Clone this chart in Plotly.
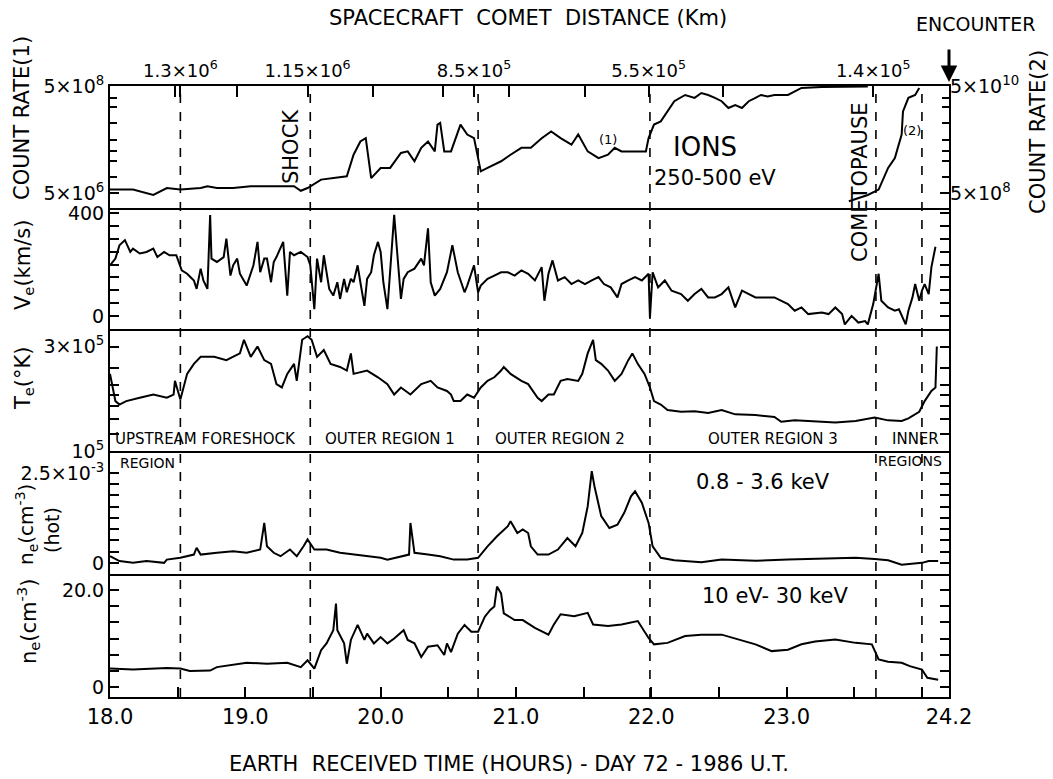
import plotly.graph_objects as go

# ---------------- data ----------------
# Panel 1: ion count rate (1) (left log axis) and (2) (right log axis)
ions1_t = [18.00, 18.17, 18.32, 18.42, 18.52, 18.67, 18.72, 18.79, 18.91, 19.04,
           19.16, 19.28, 19.36, 19.41, 19.46, 19.56, 19.65, 19.75, 19.80, 19.85,
           19.89, 19.93, 20.00, 20.07, 20.15, 20.20, 20.25, 20.30, 20.35, 20.40,
           20.42, 20.44, 20.47, 20.52, 20.59, 20.64, 20.69, 20.74, 20.79, 20.89,
           20.96, 21.04, 21.11, 21.19, 21.26, 21.33, 21.41, 21.46, 21.53, 21.61,
           21.68, 21.73, 21.78, 21.88, 21.96, 21.98, 22.02, 22.07, 22.12, 22.17,
           22.25, 22.32, 22.37, 22.42, 22.47, 22.52, 22.57, 22.62, 22.67, 22.72,
           22.77, 22.81, 22.86, 22.91, 23.01, 23.06, 23.11, 23.26, 23.41, 23.60]
ions1_v = [5.8e6, 5.8e6, 4.6e6, 6.2e6, 5.8e6, 6.2e6, 6.7e6, 6.2e6, 6.2e6, 6.7e6,
           6.7e6, 6.7e6, 6.7e6, 5.5e6, 6.2e6, 8.9e6, 9.5e6, 1.03e7, 2.6e7, 4.6e7,
           5.3e7, 9.5e6, 1.47e7, 1.47e7, 2.8e7, 3.0e7, 1.96e7, 3.5e7, 4.6e7, 3.0e7,
           9.5e7, 1.02e8, 3.0e7, 3.0e7, 9.5e7, 6.2e7, 5.3e7, 1.27e7, 1.47e7, 1.96e7,
           2.6e7, 3.5e7, 3.5e7, 5.3e7, 7.1e7, 5.3e7, 4.0e7, 6.2e7, 3.0e7, 2.25e7,
           2.6e7, 3.5e7, 3.0e7, 3.0e7, 3.0e7, 5.3e7, 9.5e7, 1.09e8, 1.68e8, 2.6e8,
           3.4e8, 3.0e8, 3.7e8, 3.4e8, 3.0e8, 2.6e8, 1.94e8, 2.2e8, 1.94e8, 2.6e8,
           3.0e8, 3.4e8, 3.2e8, 3.4e8, 3.4e8, 4.0e8, 4.6e8, 4.8e8, 4.8e8, 4.9e8]
ions2_t = [23.46, 23.53, 23.60, 23.68, 23.75, 23.80, 23.85, 23.86, 23.90, 23.95, 23.98]
ions2_v = [3.5e8, 4.0e8, 4.6e8, 5.8e8, 1.47e9, 2.25e9, 6.2e9, 1.68e10, 3.0e10, 3.4e10, 4.6e10]

# Panel 2: electron bulk velocity Ve (km/s)
ve_t = [18.00, 18.04, 18.07, 18.11, 18.15, 18.17, 18.22, 18.27, 18.32, 18.35,
        18.40, 18.44, 18.49, 18.53, 18.57, 18.62, 18.64, 18.67, 18.69, 18.72,
        18.74, 18.75, 18.79, 18.84, 18.86, 18.89, 18.91, 18.94, 18.96, 19.01,
        19.06, 19.09, 19.11, 19.14, 19.16, 19.19, 19.21, 19.23, 19.28, 19.31,
        19.33, 19.36, 19.41, 19.46, 19.48, 19.51, 19.53, 19.56, 19.58, 19.62,
        19.65, 19.68, 19.70, 19.73, 19.75, 19.78, 19.80, 19.83, 19.85, 19.88,
        19.90, 19.93, 19.95, 19.98, 20.00, 20.02, 20.05, 20.07, 20.10, 20.12,
        20.15, 20.17, 20.20, 20.25, 20.30, 20.32, 20.35, 20.37, 20.40, 20.44,
        20.49, 20.53, 20.57, 20.62, 20.64, 20.69, 20.72, 20.74, 20.79, 20.84,
        20.89, 20.94, 20.99, 21.04,
        21.09, 21.14, 21.19, 21.21, 21.24, 21.27, 21.31, 21.36, 21.41, 21.46,
        21.51, 21.56, 21.61, 21.65, 21.70, 21.75, 21.78, 21.83, 21.88, 21.93,
        21.98, 21.99, 22.01, 22.05, 22.10, 22.15, 22.22, 22.27, 22.32, 22.37,
        22.42, 22.47, 22.52, 22.57, 22.62, 22.67, 22.72, 22.77, 22.91, 22.96,
        23.01, 23.06, 23.11, 23.16, 23.26, 23.31, 23.36, 23.41, 23.43, 23.48,
        23.53, 23.58, 23.60, 23.64, 23.68, 23.70, 23.75, 23.80, 23.83, 23.88,
        23.90, 23.93, 23.95, 23.98, 24.00, 24.02, 24.05, 24.07, 24.10]
ve_v = [197, 223, 275, 295, 249, 262, 243, 249, 262, 229,
        249, 236, 236, 177, 164, 138, 105, 184, 138, 105,
        393, 223, 210, 229, 301, 157, 197, 223, 164, 118,
        197, 288, 170, 223, 223, 131, 210, 229, 288, 79,
        249, 236, 249, 229, 197, 26, 223, 131, 236, 105,
        79, 131, 66, 144, 92, 144, 131, 197, 131, 39,
        144, 170, 236, 288, 249, 131, 26, 170, 393, 262,
        66, 144, 170, 184, 223, 197, 341, 131, 79, 105,
        170, 275, 170, 92, 118, 197, 92, 118, 144, 157,
        170, 170, 157, 177,
        164, 138, 190, 59, 164, 216, 138, 151, 124, 138,
        124, 138, 151, 124, 111, 72, 124, 138, 151, 138,
        164, -7, 170, 111, 138, 98, 85, 59, 85, 105,
        72, 72, 85, 111, 33, 98, 85, 72, 72, 59,
        46, 20, 33, 7, 13, 7, 33, 7, -33, 0,
        -26, -20, -33, 46, 164, 59, 33, 20, 26, -33,
        20, 72, 124, 59, 98, 124, 85, 190, 269]

# Panel 3: electron temperature Te (K)
te_t = [18.00, 18.04, 18.07, 18.12, 18.22, 18.32, 18.42, 18.47, 18.48, 18.52,
        18.57, 18.62, 18.67, 18.77, 18.86, 18.96, 18.99, 19.04, 19.09, 19.14,
        19.19, 19.23, 19.27, 19.31, 19.36, 19.38, 19.42, 19.46, 19.49, 19.53,
        19.58, 19.63, 19.70, 19.75, 19.78, 19.80, 19.90, 19.98, 20.05, 20.10,
        20.15, 20.22, 20.30, 20.37, 20.42, 20.49, 20.52, 20.54, 20.59, 20.64,
        20.69, 20.74, 20.79, 20.84, 20.89, 20.91, 20.96, 21.04,
        21.09, 21.16, 21.19, 21.24, 21.28, 21.33, 21.38, 21.46, 21.49, 21.53,
        21.57, 21.59, 21.63, 21.68, 21.73, 21.78, 21.83, 21.86, 21.90, 21.95,
        21.99, 22.02, 22.07, 22.12, 22.22, 22.32, 22.42, 22.52, 22.62, 22.77,
        22.91, 22.96, 23.06, 23.21, 23.36, 23.51, 23.65, 23.75, 23.85, 23.90,
        23.98, 24.02, 24.07, 24.10, 24.11]
te_v = [2.25e5, 1.69e5, 1.63e5, 1.69e5, 1.75e5, 1.81e5, 1.75e5, 1.81e5, 2.09e5, 1.72e5,
        2.25e5, 2.50e5, 2.69e5, 2.69e5, 2.60e5, 2.79e5, 3.22e5, 2.69e5, 3.00e5, 2.60e5,
        2.50e5, 2.02e5, 1.95e5, 2.25e5, 2.50e5, 2.09e5, 3.22e5, 3.34e5, 3.22e5, 2.69e5,
        2.89e5, 2.50e5, 2.42e5, 2.33e5, 2.79e5, 2.25e5, 2.33e5, 2.17e5, 2.02e5, 1.81e5,
        1.95e5, 1.81e5, 2.02e5, 2.09e5, 1.95e5, 1.88e5, 1.81e5, 1.69e5, 1.69e5, 1.81e5,
        1.75e5, 1.95e5, 2.09e5, 2.17e5, 2.33e5, 2.42e5, 2.25e5, 2.09e5,
        2.02e5, 1.75e5, 1.69e5, 1.81e5, 1.81e5, 2.09e5, 2.13e5, 2.09e5, 2.25e5, 2.79e5,
        3.22e5, 2.60e5, 2.50e5, 2.33e5, 2.09e5, 2.25e5, 2.60e5, 2.79e5, 2.50e5, 2.25e5,
        1.95e5, 1.69e5, 1.63e5, 1.54e5, 1.51e5, 1.52e5, 1.49e5, 1.54e5, 1.47e5, 1.46e5,
        1.43e5, 1.36e5, 1.38e5, 1.36e5, 1.35e5, 1.37e5, 1.42e5, 1.38e5, 1.37e5, 1.41e5,
        1.51e5, 1.69e5, 1.88e5, 1.95e5, 3.00e5]

# Panel 4: hot electron density 0.8-3.6 keV (cm^-3)
nhot_t = [18.00, 18.07, 18.17, 18.27, 18.40, 18.42, 18.52, 18.62, 18.64, 18.67,
          18.79, 18.91, 19.01, 19.11, 19.14, 19.16, 19.21, 19.26, 19.33, 19.38,
          19.43, 19.46, 19.51, 19.60, 19.70, 19.80, 19.90, 20.00, 20.05, 20.15,
          20.21, 20.22, 20.25, 20.35, 20.44, 20.54, 20.64, 20.72, 20.79, 20.86,
          20.94, 20.96, 21.01, 21.05,
          21.09, 21.11, 21.16, 21.24, 21.31, 21.38, 21.44, 21.49, 21.53, 21.56,
          21.58, 21.63, 21.69, 21.75, 21.80, 21.85, 21.88, 21.93, 21.98, 22.01,
          22.07, 22.17, 22.37, 22.52, 22.77, 23.01, 23.26, 23.51, 23.65, 23.75,
          23.85, 24.00, 24.05, 24.12]
nhot_v = [0.185e-3, 0.05e-3, 0.0, 0.05e-3, 0.0, 0.09e-3, 0.14e-3, 0.23e-3, 0.42e-3, 0.23e-3,
          0.28e-3, 0.32e-3, 0.28e-3, 0.37e-3, 1.11e-3, 0.46e-3, 0.28e-3, 0.185e-3, 0.37e-3, 0.185e-3,
          0.46e-3, 0.65e-3, 0.37e-3, 0.37e-3, 0.28e-3, 0.23e-3, 0.185e-3, 0.14e-3, 0.09e-3, 0.185e-3,
          0.23e-3, 1.11e-3, 0.28e-3, 0.23e-3, 0.185e-3, 0.09e-3, 0.09e-3, 0.14e-3, 0.46e-3, 0.74e-3,
          1.02e-3, 1.16e-3, 0.83e-3, 0.93e-3,
          0.83e-3, 0.46e-3, 0.23e-3, 0.23e-3, 0.37e-3, 0.69e-3, 0.46e-3, 0.83e-3, 1.57e-3, 2.55e-3,
          2.13e-3, 1.30e-3, 0.97e-3, 1.06e-3, 1.39e-3, 1.85e-3, 1.99e-3, 1.67e-3, 1.11e-3, 0.46e-3,
          0.14e-3, 0.07e-3, 0.02e-3, 0.09e-3, 0.06e-3, 0.09e-3, 0.11e-3, 0.14e-3, 0.11e-3, 0.07e-3,
          -0.05e-3, 0.0, 0.05e-3, 0.05e-3]

# Panel 5: total electron density 10 eV-30 keV (cm^-3)
ne_t = [18.00, 18.17, 18.42, 18.52, 18.59, 18.74, 18.79, 19.01, 19.16, 19.31,
        19.41, 19.46, 19.51, 19.56, 19.60, 19.65, 19.67, 19.68, 19.73, 19.75,
        19.78, 19.83, 19.88, 19.90, 19.95, 20.00, 20.05, 20.10, 20.17, 20.20,
        20.25, 20.30, 20.35, 20.42, 20.47, 20.49, 20.52, 20.57, 20.62, 20.67,
        20.72, 20.77, 20.81, 20.84, 20.86, 20.89, 20.91, 20.99, 21.05,
        21.14, 21.24, 21.28, 21.33, 21.43, 21.53, 21.57, 21.68, 21.78, 21.90,
        21.98, 22.02, 22.12, 22.25, 22.37, 22.52, 22.64, 22.77, 22.89, 23.01,
        23.11, 23.21, 23.36, 23.51, 23.63, 23.68, 23.75, 23.85, 23.91, 24.00,
        24.04, 24.12]
ne_v = [3.8, 3.6, 3.9, 3.8, 3.3, 3.4, 4.1, 5.0, 4.8, 5.0,
        4.1, 5.5, 3.8, 7.6, 9.0, 11.7, 17.2, 11.7, 9.0, 4.8,
        9.7, 12.8, 9.7, 11.0, 9.0, 10.3, 9.0, 10.0, 11.7, 9.7,
        9.0, 6.2, 8.3, 8.6, 6.6, 9.0, 7.2, 11.0, 12.8, 11.4,
        11.4, 14.5, 15.9, 16.6, 20.7, 19.3, 15.2, 13.8, 13.8,
        12.2, 10.8, 12.9, 15.0, 14.6, 15.3, 12.9, 12.6, 12.9, 13.6,
        10.1, 8.8, 9.1, 10.5, 10.8, 10.8, 9.8, 8.8, 7.4, 7.7,
        8.8, 9.4, 9.8, 9.1, 8.8, 5.7, 5.2, 5.0, 4.3, 3.6,
        1.9, 1.5]

# region boundaries (dashed lines), hours
boundaries = [18.52, 19.48, 20.72, 21.99, 23.66, 24.00]

# top axis: spacecraft-comet distance
dist_ticks = [18.48, 18.52, 18.94, 19.46, 19.94, 20.46, 20.69, 20.95, 21.51, 21.98, 22.53, 23.64]
dist_text = ["", "1.3×10<sup>6</sup>", "", "1.15×10<sup>6</sup>", "", "", "8.5×10<sup>5</sup>", "",
             "", "5.5×10<sup>5</sup>", "", "1.4×10<sup>5</sup>"]

# bottom axis ticks
time_ticks = [18.0, 18.5, 19.0, 19.5, 20.0, 20.5, 21.0, 21.5, 22.0, 22.5, 23.0, 23.5, 24.0, 24.2]
time_text = ["18.0", "", "19.0", "", "20.0", "", "21.0", "", "22.0", "", "23.0", "", "", "24.2"]

# ---------------- layout geometry ----------------
W, H = 1053, 779
L, R, T, B = 110, 104, 86, 82
PW, PH = W - L - R, H - T - B
edges = [86, 208, 329, 451, 574, 697]   # panel borders (px from top)


def fx(px):
    return (px - L) / PW


def fy(py):
    return (H - B - py) / PH


FONT = "DejaVu Sans"
BLACK = "black"
LINE = dict(color=BLACK, width=2)

fig = go.Figure()
fig.add_trace(go.Scatter(x=ions1_t, y=ions1_v, xaxis="x", yaxis="y", mode="lines", line=LINE))
fig.add_trace(go.Scatter(x=ions2_t, y=ions2_v, xaxis="x", yaxis="y6", mode="lines", line=LINE))
fig.add_trace(go.Scatter(x=ve_t, y=ve_v, xaxis="x2", yaxis="y2", mode="lines", line=LINE))
fig.add_trace(go.Scatter(x=te_t, y=te_v, xaxis="x3", yaxis="y3", mode="lines", line=LINE))
fig.add_trace(go.Scatter(x=nhot_t, y=nhot_v, xaxis="x4", yaxis="y4", mode="lines", line=LINE))
fig.add_trace(go.Scatter(x=ne_t, y=ne_v, xaxis="x5", yaxis="y5", mode="lines", line=LINE))
# invisible carrier for the top distance axis
fig.add_trace(go.Scatter(x=[18.0], y=[5e6], xaxis="x6", yaxis="y", mode="markers",
                         marker=dict(opacity=0), hoverinfo="skip"))

tickfont = dict(family=FONT, size=19, color=BLACK)
# each x axis draws only its bottom line -> single separators between panels
xbase = dict(range=[18.0, 24.2], showline=True, linecolor=BLACK, linewidth=2, mirror=False,
             showgrid=False, zeroline=False, ticks="", showticklabels=False)
ybase = dict(showline=True, linecolor=BLACK, linewidth=2, mirror="ticks", showgrid=False,
             zeroline=False, ticks="inside", ticklen=9, tickwidth=1.5, tickcolor=BLACK,
             tickfont=tickfont)

layout = dict(
    width=W, height=H, autosize=False,
    margin=dict(l=L, r=R, t=T, b=B, pad=0),
    paper_bgcolor="white", plot_bgcolor="white", showlegend=False,
    font=dict(family=FONT, color=BLACK),
)
for i in range(5):
    name = "xaxis" if i == 0 else f"xaxis{i + 1}"
    yname = "y" if i == 0 else f"y{i + 1}"
    xa = dict(xbase, anchor=yname)
    if i > 0:
        xa["matches"] = "x"
    layout[name] = xa

layout["xaxis5"].update(ticks="inside", ticklen=10, tickwidth=1.5, tickcolor=BLACK,
                        tickvals=time_ticks, ticktext=time_text, showticklabels=True,
                        tickfont=dict(family=FONT, size=21, color=BLACK))
layout["xaxis6"] = dict(overlaying="x", side="top", anchor="y", range=[18.0, 24.2],
                        showgrid=False, zeroline=False, showline=True, linecolor=BLACK,
                        linewidth=2, ticks="inside",
                        ticklen=11, tickwidth=1.5, tickcolor=BLACK,
                        tickvals=dist_ticks, ticktext=dist_text,
                        tickfont=dict(family=FONT, size=18, color=BLACK))

dom = [[fy(edges[i + 1]), fy(edges[i])] for i in range(5)]

layout["yaxis"] = dict(ybase, domain=dom[0], anchor="x", type="log", range=[6.419, 8.699],
                       mirror=True, tickvals=[5e6, 5e8],
                       ticktext=["5×10<sup>6</sup>", "5×10<sup>8</sup>"],
                       minor=dict(ticks="inside", ticklen=7, tickcolor=BLACK,
                                  tickvals=[1e7, 2e7, 3e7, 5e7, 1e8, 2e8, 3e8]))
layout["yaxis6"] = dict(overlaying="y", side="right", anchor="x", type="log",
                        range=[8.419, 10.699], showgrid=False, zeroline=False, showline=False,
                        ticks="inside", ticklen=9, tickwidth=1.5, tickcolor=BLACK, tickfont=tickfont,
                        tickvals=[5e8, 5e10], ticktext=["5×10<sup>8</sup>", "5×10<sup>10</sup>"],
                        minor=dict(ticks="inside", ticklen=7, tickcolor=BLACK,
                                   tickvals=[1e9, 2e9, 3e9, 5e9, 1e10, 2e10, 3e10]))
layout["yaxis2"] = dict(ybase, domain=dom[1], anchor="x2", range=[-51, 420],
                        tickvals=[0, 50, 100, 150, 200, 250, 300, 350, 400],
                        ticktext=["0", "", "", "", "", "", "", "", "400"])
layout["yaxis3"] = dict(ybase, domain=dom[2], anchor="x3", type="log", range=[5.0, 5.557],
                        tickvals=[1e5, 1.2e5, 1.4e5, 1.6e5, 1.8e5, 2e5, 2.4e5, 3e5],
                        ticktext=["10<sup>5</sup>", "", "", "", "", "", "", "3×10<sup>5</sup>"])
layout["yaxis4"] = dict(ybase, domain=dom[3], anchor="x4", range=[-0.31e-3, 3.11e-3],
                        tickvals=[0, 0.3125e-3, 0.625e-3, 0.9375e-3, 1.25e-3, 1.5625e-3,
                                  1.875e-3, 2.1875e-3, 2.5e-3],
                        ticktext=["0", "", "", "", "", "", "", "", "2.5×10<sup>-3</sup>"])
layout["yaxis5"] = dict(ybase, domain=dom[4], anchor="x5", range=[-2.06, 23.3],
                        tickvals=[0, 3.33, 6.67, 10, 13.33, 16.67, 20],
                        ticktext=["0", "", "", "", "", "", "20.0"])

fig.update_layout(**layout)

# dashed region boundaries
for b in boundaries:
    fig.add_shape(type="line", xref="x", yref="paper", x0=b, x1=b, y0=0, y1=1,
                  line=dict(color=BLACK, width=1.6, dash="dash"))


def ann(text, px, py, size=17, angle=0, xanchor="center"):
    fig.add_annotation(text=text, x=fx(px), y=fy(py), xref="paper", yref="paper",
                       showarrow=False, textangle=angle, xanchor=xanchor, yanchor="middle",
                       font=dict(family=FONT, size=size, color=BLACK))


ann("SPACECRAFT  COMET  DISTANCE (Km)", 528, 18, 21)
ann("ENCOUNTER", 975, 24, 19)
fig.add_annotation(x=24.2, y=fy(82), xref="x", yref="paper", text="", showarrow=True,
                   ax=0, ay=-34, arrowhead=2, arrowsize=1.1, arrowwidth=3, arrowcolor=BLACK)

ann("COUNT RATE(1)", 22, 118, 21, -90)
ann("COUNT RATE(2)", 1038, 132, 21, -90)
ann("V<sub>e</sub>(km/s)", 24, 265, 21, -90)
ann("T<sub>e</sub>(°K)", 24, 378, 21, -90)
ann("n<sub>e</sub>(cm<sup>-3</sup>)", 26, 525, 20, -90)
ann("(hot)", 52, 530, 19, -90)
ann("n<sub>e</sub>(cm<sup>-3</sup>)", 28, 622, 21, -90)

ann("SHOCK", 291, 147, 21, -90)
ann("(1)", 608, 140, 13)
ann("IONS", 705, 147, 26)
ann("250-500 eV", 715, 178, 21)
ann("COMETOPAUSE", 860, 182, 21, -90)
ann("(2)", 912, 130, 13)

ann("UPSTREAM FORESHOCK", 113, 439, 15, xanchor="left")
ann("OUTER REGION 1", 390, 439, 15)
ann("OUTER REGION 2", 560, 439, 15)
ann("OUTER REGION 3", 773, 439, 15)
ann("INNER", 915, 439, 15)
ann("REGION", 147, 463, 14)
ann("REGIONS", 910, 461, 14)

ann("0.8 - 3.6 keV", 763, 482, 21)
ann("10 eV- 30 keV", 775, 596, 21)

ann("EARTH  RECEIVED TIME (HOURS) - DAY 72 - 1986 U.T.", 509, 764, 21)

fig.write_html("out.html", config={"displayModeBar": False},
               post_script="document.body.style.margin='0';")
